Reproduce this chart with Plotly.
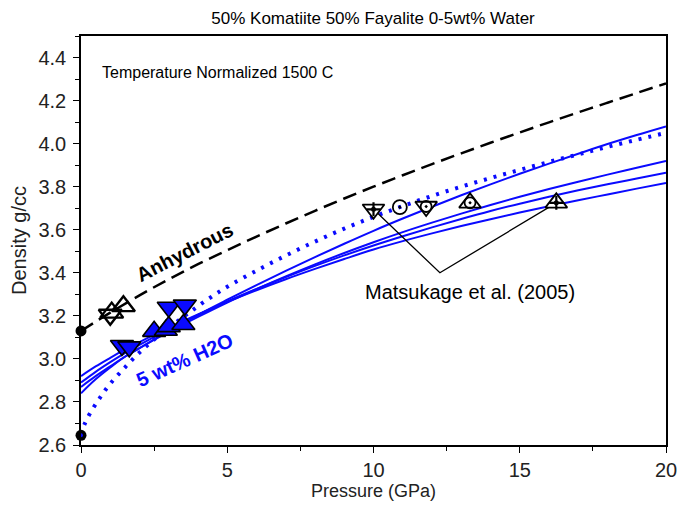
import plotly.graph_objects as go

# ---- data ----
anhyd_P = [0, 1, 2, 3, 4, 5, 6, 7, 8, 9, 10, 11, 12, 13, 14, 15, 16, 17, 18, 19, 20]
anhyd_rho = [3.13, 3.215, 3.295, 3.37, 3.44, 3.505, 3.568, 3.629, 3.688, 3.745, 3.80, 3.853, 3.905, 3.955,
             4.004, 4.052, 4.099, 4.145, 4.19, 4.235, 4.28]

wet5_P = [0, 0.1, 0.3, 0.65, 1, 1.5, 2, 2.5, 3, 3.5, 4, 4.5, 5, 6, 7, 8, 9, 10, 11, 12, 13, 14, 15, 16, 17, 18, 19, 20]
wet5_rho = [2.65, 2.69, 2.745, 2.82, 2.885, 2.96, 3.03, 3.09, 3.145, 3.195, 3.245, 3.292, 3.335, 3.41, 3.48, 3.545,
            3.605, 3.66, 3.71, 3.757, 3.80, 3.84, 3.878, 3.915, 3.95, 3.985, 4.018, 4.05]

solid_P = [0, 0.5, 1, 1.5, 2, 3, 4, 5, 6, 7, 8, 9, 10, 11, 12, 13, 14, 15, 16, 17, 18, 19, 20]
wetA_rho = [2.84, 2.905, 2.96, 3.01, 3.05, 3.13, 3.205, 3.275, 3.343, 3.409, 3.473, 3.535, 3.595, 3.652, 3.707,
            3.76, 3.811, 3.86, 3.907, 3.953, 3.998, 4.04, 4.08]
wetB_rho = [2.87, 2.92, 2.965, 3.01, 3.05, 3.125, 3.195, 3.262, 3.324, 3.383, 3.439, 3.492, 3.542, 3.589, 3.633,
            3.675, 3.715, 3.753, 3.789, 3.823, 3.856, 3.888, 3.92]
wetC_rho = [2.89, 2.94, 2.985, 3.027, 3.065, 3.137, 3.204, 3.267, 3.325, 3.38, 3.432, 3.481, 3.527, 3.57, 3.611,
            3.65, 3.687, 3.721, 3.753, 3.783, 3.811, 3.838, 3.865]
wetD_rho = [2.92, 2.965, 3.005, 3.043, 3.078, 3.145, 3.207, 3.265, 3.319, 3.37, 3.418, 3.464, 3.508, 3.547, 3.583,
            3.617, 3.649, 3.68, 3.709, 3.737, 3.764, 3.791, 3.817]

zero_P = [0, 0]
zero_rho = [3.13, 2.645]

anhyd_dn_P, anhyd_dn_rho = [1.0], [3.205]
anhyd_up_P, anhyd_up_rho = [1.05, 1.45], [3.215, 3.245]

blue_dn_P = [1.4, 1.65, 3.0, 3.55]
blue_dn_rho = [3.062, 3.056, 3.24, 3.25]
blue_up_P = [2.5, 2.9, 3.0, 3.5]
blue_up_rho = [3.128, 3.133, 3.15, 3.16]

mat_dnplus_P, mat_dnplus_rho = [10.0], [3.695]
mat_circ_P, mat_circ_rho = [10.9], [3.705]
mat_dncirc_P, mat_dncirc_rho = [11.8], [3.708]
mat_upcirc_P, mat_upcirc_rho = [13.3], [3.725]
mat_upplus_P, mat_upplus_rho = [16.25], [3.725]

leader_P = [10.0, 12.27, 16.25]
leader_rho = [3.695, 3.40, 3.725]

BLUE = "#0a0aff"
FONT = "Liberation Sans"

fig = go.Figure()

# curves
for rho in [wetA_rho, wetB_rho, wetC_rho, wetD_rho]:
    fig.add_trace(go.Scatter(x=solid_P, y=rho, mode="lines", line=dict(color=BLUE, width=2, shape="spline"),
                             hoverinfo="skip"))
fig.add_trace(go.Scatter(x=wet5_P, y=wet5_rho, mode="lines",
                         line=dict(color=BLUE, width=4, dash="3px,7px", shape="spline")))
fig.add_trace(go.Scatter(x=anhyd_P, y=anhyd_rho, mode="lines",
                         line=dict(color="black", width=2.5, dash="14px,7px", shape="spline")))

# leader lines
fig.add_trace(go.Scatter(x=leader_P, y=leader_rho, mode="lines", line=dict(color="black", width=1.3)))

# zero-pressure points
fig.add_trace(go.Scatter(x=zero_P, y=zero_rho, mode="markers", cliponaxis=False,
                         marker=dict(symbol="circle", size=11, color="black")))
fig.add_trace(go.Scatter(x=[0], y=[zero_rho[1]], mode="markers", cliponaxis=False,
                         marker=dict(symbol="circle", size=4, color=BLUE)))

# anhydrous experiments (open black triangles)
fig.add_trace(go.Scatter(x=anhyd_dn_P, y=anhyd_dn_rho, mode="markers",
                         marker=dict(symbol="triangle-down-open", size=20, color="black", line=dict(width=2.4))))
fig.add_trace(go.Scatter(x=anhyd_up_P, y=anhyd_up_rho, mode="markers",
                         marker=dict(symbol="triangle-up-open", size=20, color="black", line=dict(width=2.4))))

# hydrous experiments (filled blue triangles)
fig.add_trace(go.Scatter(x=blue_up_P, y=blue_up_rho, mode="markers",
                         marker=dict(symbol="triangle-up", size=20, color=BLUE, line=dict(color="black", width=1.6))))
fig.add_trace(go.Scatter(x=blue_dn_P, y=blue_dn_rho, mode="markers",
                         marker=dict(symbol="triangle-down", size=20, color=BLUE, line=dict(color="black", width=1.6))))

# Matsukage et al. (2005)
fig.add_trace(go.Scatter(x=mat_dnplus_P + mat_dncirc_P, y=mat_dnplus_rho + mat_dncirc_rho, mode="markers",
                         marker=dict(symbol="triangle-down", size=19, color="white", line=dict(color="black", width=1.8))))
fig.add_trace(go.Scatter(x=mat_upcirc_P + mat_upplus_P, y=mat_upcirc_rho + mat_upplus_rho, mode="markers",
                         marker=dict(symbol="triangle-up", size=19, color="white", line=dict(color="black", width=1.8))))
fig.add_trace(go.Scatter(x=mat_circ_P, y=mat_circ_rho, mode="markers",
                         marker=dict(symbol="circle-open-dot", size=14, color="black", line=dict(width=1.8))))
fig.add_trace(go.Scatter(x=mat_dncirc_P + mat_upcirc_P, y=mat_dncirc_rho + mat_upcirc_rho, mode="markers",
                         marker=dict(symbol="circle-open-dot", size=11, color="black", line=dict(width=1.8))))
fig.add_trace(go.Scatter(x=mat_dnplus_P + mat_upplus_P, y=mat_dnplus_rho + mat_upplus_rho, mode="markers",
                         marker=dict(symbol="cross-thin-open", size=10, color="black", line=dict(width=2.2, color="black"))))
fig.add_trace(go.Scatter(x=mat_dnplus_P + mat_upplus_P, y=mat_dnplus_rho + mat_upplus_rho, mode="markers",
                         marker=dict(symbol="circle", size=5, color="black")))

fig.add_annotation(x=0.65, y=4.33, text="Temperature Normalized 1500 C", showarrow=False, xanchor="left",
                   font=dict(family=FONT, size=16, color="black"))
fig.add_annotation(x=13.3, y=3.31, text="Matsukage et al. (2005)", showarrow=False,
                   font=dict(family=FONT, size=20, color="black"))
fig.add_annotation(x=3.56, y=3.495, text="<b>Anhydrous</b>", showarrow=False, textangle=-27,
                   font=dict(family=FONT, size=20, color="black"))
fig.add_annotation(x=3.55, y=2.995, text="<b>5 wt% H2O</b>", showarrow=False, textangle=-24,
                   font=dict(family=FONT, size=20, color=BLUE))

axis_common = dict(showline=True, linecolor="black", linewidth=1.5, mirror=True, ticks="outside",
                   ticklen=6, tickwidth=1.3, tickcolor="black", showgrid=False, zeroline=False,
                   automargin=False, ticklabeloverflow="allow",
                   tickfont=dict(family=FONT, size=20, color="#222"))

fig.update_xaxes(range=[0, 20], tick0=0, dtick=5,
                 minor=dict(dtick=2.5, ticks="outside", ticklen=4, tickcolor="black", tickwidth=1.2),
                 title=dict(text="Pressure (GPa)", font=dict(family=FONT, size=18, color="#222"), standoff=4),
                 **axis_common)
fig.update_yaxes(range=[2.6, 4.5], tick0=2.6, dtick=0.2, tickformat=".1f", ticklabelstandoff=3,
                 minor=dict(dtick=0.1, ticks="outside", ticklen=4, tickcolor="black", tickwidth=1.2),
                 title=dict(text="Density g/cc", font=dict(family=FONT, size=20, color="#222"), standoff=6),
                 **axis_common)

fig.update_layout(
    width=677, height=506,
    margin=dict(l=81, r=11, t=36, b=61),
    paper_bgcolor="white", plot_bgcolor="white",
    showlegend=False,
    title=dict(text="50% Komatiite 50% Fayalite 0-5wt% Water", x=0.551, xanchor="center", y=0.965,
               yanchor="middle", font=dict(family=FONT, size=17, color="black")),
)

fig.write_html("out.html")
